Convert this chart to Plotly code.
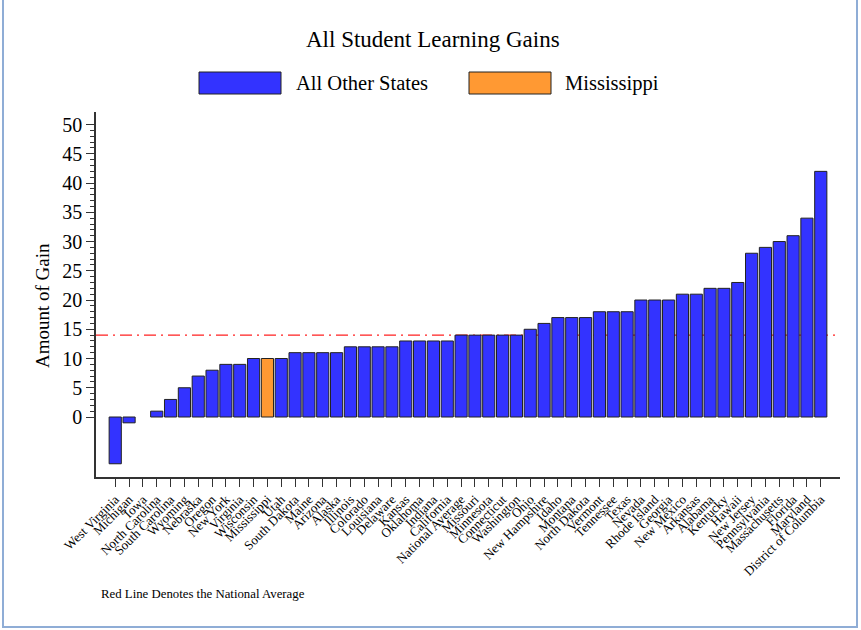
import plotly.graph_objects as go

states = [
    "West Virginia", "Michigan", "Iowa", "North Carolina", "South Carolina", "Wyoming",
    "Nebraska", "Oregon", "New York", "Virginia", "Wisconsin", "Mississippi", "Utah",
    "South Dakota", "Maine", "Arizona", "Alaska", "Illinois", "Colorado", "Louisiana",
    "Delaware", "Kansas", "Oklahoma", "Indiana", "California", "National Average",
    "Missouri", "Minnesota", "Connecticut", "Washington", "Ohio", "New Hampshire",
    "Idaho", "Montana", "North Dakota", "Vermont", "Tennessee", "Texas", "Nevada",
    "Rhode Island", "Georgia", "New Mexico", "Arkansas", "Alabama", "Kentucky",
    "Hawaii", "New Jersey", "Pennsylvania", "Massachusetts", "Florida", "Maryland",
    "District of Columbia",
]
gains = [
    -8, -1, 0, 1, 3, 5,
    7, 8, 9, 9, 10, 10, 10,
    11, 11, 11, 11, 12, 12, 12,
    12, 13, 13, 13, 13, 14,
    14, 14, 14, 14, 15, 16,
    17, 17, 17, 18, 18, 18, 20,
    20, 20, 21, 21, 22, 22,
    23, 28, 29, 30, 31, 34,
    42,
]
national_average = 14
highlight = "Mississippi"
y_major_ticks = [0, 5, 10, 15, 20, 25, 30, 35, 40, 45, 50]
y_minor_ticks = [v for v in range(0, 51) if v % 5 != 0]

BLUE = "#3333ff"
ORANGE = "#ff9933"
SERIF = "Liberation Serif, Times New Roman, serif"

W, H = 861, 630
L, R, T, B = 96, 21, 112, 153
pw, ph = W - L - R, H - T - B


def px(x):
    return (x - L) / pw


def py(y):
    return (H - B - y) / ph


colors = [ORANGE if s == highlight else BLUE for s in states]
outline_widths = [0 if g == 0 else 1 for g in gains]

fig = go.Figure()
fig.add_trace(go.Bar(
    x=states, y=gains,
    marker=dict(color=colors, line=dict(color="#222222", width=outline_widths)),
    showlegend=False, hoverinfo="x+y",
))

fig.add_shape(type="line", xref="paper", yref="y", x0=0, x1=1,
              y0=national_average, y1=national_average,
              line=dict(color="#ff2020", width=1.2, dash="12px,5px,2px,5px"),
              layer="below")

# custom legend boxes
fig.add_shape(type="rect", xref="paper", yref="paper",
              x0=px(199), x1=px(281), y0=py(94), y1=py(72),
              fillcolor=BLUE, line=dict(color="#222222", width=1))
fig.add_shape(type="rect", xref="paper", yref="paper",
              x0=px(469), x1=px(551), y0=py(94), y1=py(72),
              fillcolor=ORANGE, line=dict(color="#222222", width=1))
fig.add_annotation(text="All Other States", xref="paper", yref="paper",
                   x=px(294), y=py(83), xanchor="left", yanchor="middle",
                   showarrow=False, font=dict(family=SERIF, size=20.5, color="black"))
fig.add_annotation(text="Mississippi", xref="paper", yref="paper",
                   x=px(563), y=py(83), xanchor="left", yanchor="middle",
                   showarrow=False, font=dict(family=SERIF, size=20.5, color="black"))

# title
fig.add_annotation(text="All Student Learning Gains", xref="paper", yref="paper",
                   x=px(433), y=py(40), xanchor="center", yanchor="middle",
                   showarrow=False, font=dict(family=SERIF, size=23, color="black"))
# y axis title
fig.add_annotation(text="Amount of Gain", xref="paper", yref="paper",
                   x=px(42), y=py(305), xanchor="center", yanchor="middle",
                   textangle=-90, showarrow=False,
                   font=dict(family=SERIF, size=19, color="black"))
# note
fig.add_annotation(text="Red Line Denotes the National Average", xref="paper", yref="paper",
                   x=px(99), y=py(594), xanchor="left", yanchor="middle",
                   showarrow=False, font=dict(family=SERIF, size=12.8, color="black"))

# outer frame (top edge falls just outside the page, as in the reference crop)
fig.add_shape(type="rect", xref="paper", yref="paper",
              x0=px(3), x1=px(857), y0=py(627), y1=py(-3),
              line=dict(color="#8fadd6", width=2), fillcolor="rgba(0,0,0,0)")

fig.update_layout(
    width=W, height=H,
    margin=dict(l=L, r=R, t=T, b=B),
    paper_bgcolor="white", plot_bgcolor="white",
    bargap=0.12,
    font=dict(family=SERIF, color="black"),
    xaxis=dict(
        type="category", range=[-1.39, 52.39],
        tickmode="linear", tick0=0, dtick=1,
        showline=True, linecolor="#333333", linewidth=1.5,
        ticks="outside", ticklen=8, tickcolor="#333333", tickwidth=1.2,
        tickangle=-45, tickfont=dict(family=SERIF, size=13, color="black"),
        showgrid=False, zeroline=False, automargin=False,
    ),
    yaxis=dict(
        range=[-10.26, 52.15],
        showline=True, linecolor="#333333", linewidth=1.5,
        tickmode="array", tickvals=y_major_ticks,
        ticks="outside", ticklen=8, tickcolor="#333333", tickwidth=1.2,
        tickfont=dict(family=SERIF, size=20, color="black"),
        minor=dict(tickmode="array", tickvals=y_minor_ticks, ticks="outside",
                   ticklen=4, tickcolor="#333333", tickwidth=1, showgrid=False),
        showgrid=False, zeroline=False, automargin=False,
    ),
)

fig.write_html("out.html", config={"displayModeBar": False},
               post_script="document.body.style.margin='0';")
